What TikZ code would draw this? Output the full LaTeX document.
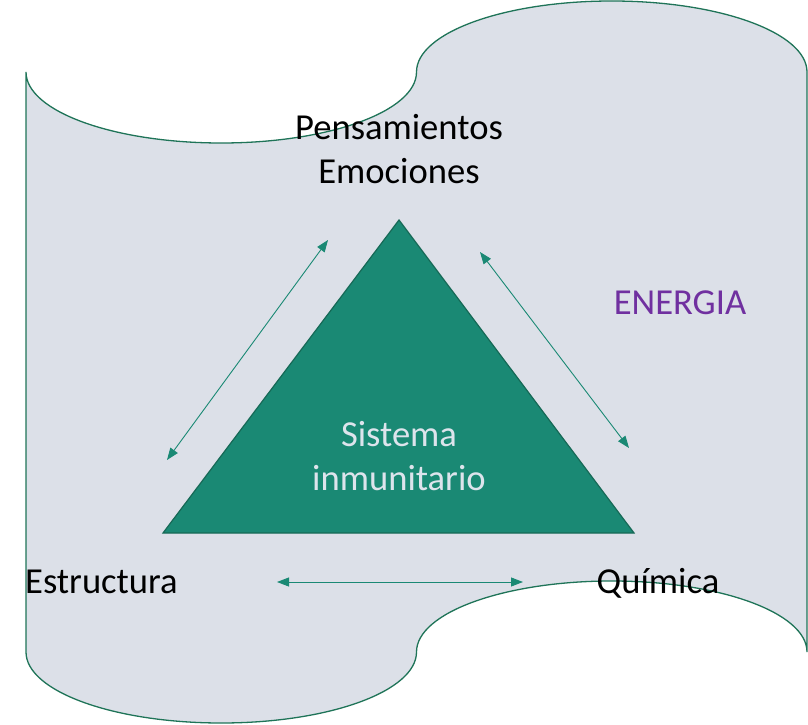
\documentclass[tikz,border=0pt]{standalone}
\usepackage{fontspec}
\setmainfont{Carlito}
\usetikzlibrary{arrows.meta}
\definecolor{outlinecol}{RGB}{31,116,88}
\definecolor{bgfill}{RGB}{220,224,232}
\definecolor{trifill}{RGB}{26,137,116}
\definecolor{tristroke}{RGB}{22,105,86}
\definecolor{arrowcol}{RGB}{26,137,116}
\definecolor{innertext}{RGB}{221,228,236}
\definecolor{energycol}{RGB}{112,48,160}
\tikzset{
  lbl/.style={inner sep=0pt, font=\fontsize{36.6}{45}\selectfont, text=black},
  biarrow/.style={draw=arrowcol, line width=0.9pt, {Triangle[length=12pt,width=9pt]}-{Triangle[length=12pt,width=9pt]}},
}
\begin{document}
\begin{tikzpicture}[x=1pt,y=1pt]
\useasboundingbox (0,0) rectangle (808,724);
% punched tape shape
\draw[outlinecol, line width=1.3pt, fill=bgfill]
  (26,652) arc[start angle=180, end angle=360, x radius=195.25, y radius=71]
  arc[start angle=180, end angle=0, x radius=195.25, y radius=71]
  -- (807,72)
  arc[start angle=0, end angle=180, x radius=195.25, y radius=71]
  arc[start angle=0, end angle=-180, x radius=195.25, y radius=71]
  -- cycle;
% triangle
\draw[tristroke, line width=1.2pt, fill=trifill] (399,504) -- (634,191) -- (163,191) -- cycle;
% labels
\node[lbl, anchor=base] (pens) at (399,584.7) {Pensamientos};
\node[lbl, anchor=base] (emoc) at (399,540) {Emociones};
\node[lbl, anchor=base west] (estr) at (25,131) {Estructura};
\node[lbl, anchor=base] (quim) at (658,131) {Química};
\node[lbl, anchor=base, text=energycol] (ener) at (680,409.7) {ENERGIA};
\node[lbl, anchor=base, text=innertext] (sist) at (399,278) {Sistema};
\node[lbl, anchor=base, text=innertext] (inmu) at (399,234) {inmunitario};
% arrows
\coordinate (l1) at (328,484);
\coordinate (l2) at (167,264);
\coordinate (r1) at (480,472);
\coordinate (r2) at (629,276);
\coordinate (b1) at (277,142);
\coordinate (b2) at (523,142);
\draw[biarrow] (l2) -- (l1);
\draw[biarrow] (r1) -- (r2);
\draw[biarrow] (b1) -- (b2);
\end{tikzpicture}
\end{document}
